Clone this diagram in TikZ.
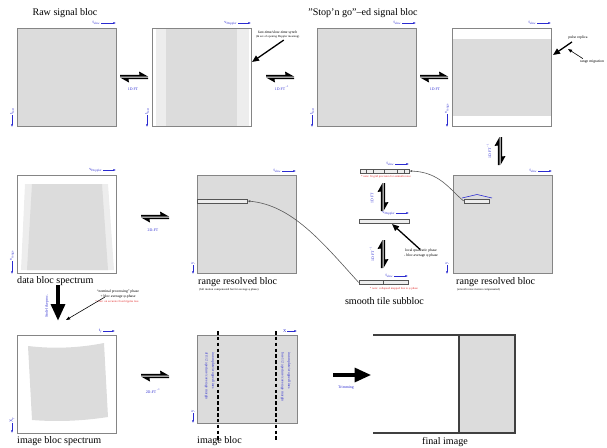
\documentclass[tikz,border=0pt]{standalone}
\usepackage{fontspec}
\setmainfont{Liberation Serif}
\usetikzlibrary{arrows.meta,calc}
\definecolor{boxfill}{HTML}{DCDCDC}
\definecolor{lightfill}{HTML}{EDEDED}
\definecolor{edge}{HTML}{858585}
\definecolor{lblue}{HTML}{2A2AD0}
\definecolor{lred}{HTML}{E02828}
\definecolor{conn}{HTML}{555555}
\tikzset{
  sz/.style 2 args={minimum width=#1*0.03cm, minimum height=#2*0.03cm, inner sep=0pt},
  blk/.style={draw=edge, line width=0.8pt},
  captxt/.style={font=\fontsize{8.6}{10}\selectfont, inner sep=0pt},
  tinytxt/.style={font=\fontsize{3.2}{3.8}\selectfont, inner sep=0pt},
  subcap/.style={font=\fontsize{2.5}{3}\selectfont, inner sep=0pt},
  ftlbl/.style={font=\fontsize{3.3}{4}\selectfont, text=lblue, inner sep=0pt},
  axl/.style={font=\fontsize{3.8}{4}\selectfont, text=lblue, inner sep=0.4pt},
  axarrow/.style={draw=lblue, line width=0.45pt, -{Latex[length=2.2pt,width=1.8pt]}},
  rednote/.style={font=\fontsize{2.5}{3}\selectfont, text=lred, inner sep=0pt},
  bluenote/.style={font=\fontsize{3.1}{4}\selectfont, text=lblue, inner sep=0pt},
  stripbox/.style={draw=conn, fill=lightfill, line width=0.5pt},
  curvconn/.style={draw=conn, line width=0.5pt, -{Latex[length=2.5pt,width=2pt]}},
  ptr/.style={line width=1.1pt, -{Triangle[length=6pt,width=5pt]}},
  thinptr/.style={line width=0.5pt, -{Triangle[length=3.5pt,width=2.6pt]}},
  bigarrow/.style={line width=2.6pt, -{Triangle[length=14pt,width=12pt]}},
  finline/.style={draw=black!75, line width=1pt},
  eqpair/.pic={
    \fill (-14,-0.5) -- (14,-0.5) -- (5,-5.5) -- (5.5,-2.1) -- (-14,-2.1) -- cycle;
    \fill (14,0.5) -- (-14,0.5) -- (-5,5.5) -- (-5.5,2.1) -- (14,2.1) -- cycle;
  },
}
\begin{document}
\begin{tikzpicture}[x=0.03cm,y=-0.03cm]
\useasboundingbox (0,0) rectangle (607,448);

% ---------------- row 1 ----------------
\node[captxt] (t1) at (65,13) {Raw signal bloc};
\node[captxt] (t3) at (363,13) {"Stop’n go"–ed signal bloc};

\node[blk, fill=boxfill, sz={99}{98}] (b1) at (66.5,77) {};

\fill[lightfill] (156,28) rectangle (166,126);
\fill[boxfill] (166,28) rectangle (237,126);
\fill[lightfill] (237,28) rectangle (249,126);
\node[blk, sz={99}{98}] (b2) at (201.5,77) {};

\node[blk, fill=boxfill, sz={99}{98}] (b3) at (366.5,77) {};

\fill[boxfill] (452,39) rectangle (551,116);
\node[blk, sz={99}{98}] (b4) at (501.5,77) {};

% axes row 1
\node[axl, anchor=east] (a1t) at (101,23) {t\textsubscript{slow}};
\coordinate (a1te) at (116,23);
\draw[axarrow] (a1t) -- (a1te);
\node[axl, rotate=90, anchor=west] (a1l) at (12,115) {t\textsubscript{fast}};
\coordinate (a1le) at (12,127);
\draw[axarrow] (a1l) -- (a1le);

\node[axl, anchor=east] (a2t) at (238,23) {ν\textsubscript{Doppler}};
\coordinate (a2te) at (251,23);
\draw[axarrow] (a2t) -- (a2te);
\node[axl, rotate=90, anchor=west] (a2l) at (147,115) {t\textsubscript{fast}};
\coordinate (a2le) at (147,127);
\draw[axarrow] (a2l) -- (a2le);

\node[axl, anchor=east] (a3t) at (402,23) {t\textsubscript{slow}};
\coordinate (a3te) at (416,23);
\draw[axarrow] (a3t) -- (a3te);
\node[axl, rotate=90, anchor=west] (a3l) at (312,115) {t\textsubscript{fast}};
\coordinate (a3le) at (312,127);
\draw[axarrow] (a3l) -- (a3le);

\node[axl, anchor=east] (a4t) at (537,23) {t\textsubscript{slow}};
\coordinate (a4te) at (551,23);
\draw[axarrow] (a4t) -- (a4te);
\node[axl, rotate=90, anchor=west] (a4l) at (447,114) {ν\textsubscript{range}};
\coordinate (a4le) at (447,127);
\draw[axarrow] (a4l) -- (a4le);

% transforms row 1
\pic at (134,77) {eqpair};
\pic at (280,77) {eqpair};
\pic at (434,77) {eqpair};
\node[ftlbl] (f1) at (133,89) {1D FT};
\node[ftlbl] (f2) at (282,88) {1D FT\textsuperscript{\,−1}};
\node[ftlbl] (f3) at (435,89) {1D FT};

% annotations row 1
\node[tinytxt, anchor=west] (n1) at (258,33) {fast-time/slow-time synch};
\node[subcap, anchor=west] (n1b) at (256,37) {(\& are of opening Doppler meaning)};
\coordinate (n1tip) at (252,62);
\draw[ptr] ($(n1b.south)+(6,1.5)$) -- (n1tip);

\node[tinytxt] (n2) at (578,38) {pulse replica};
\node[tinytxt] (n3) at (592,62) {range migration};
\coordinate (n2tip) at (553,55);
\draw[ptr] ($(n2.south)+(-6,2)$) -- (n2tip);
\coordinate (n3tip) at (568,49);
\draw[thinptr] ($(n3.north west)+(3,-1.5)$) -- (n3tip);

% ---------------- row 2 ----------------
\fill[lightfill] (25,184) -- (108,184) -- (114,270) -- (21,270) -- cycle;
\fill[boxfill] (32,184) -- (102,184) -- (108,270) -- (27,270) -- cycle;
\node[blk, sz={99}{98}] (b5) at (66.5,224) {};
\node[axl, anchor=east] (a5t) at (103,170) {ν\textsubscript{Doppler}};
\coordinate (a5te) at (116,170);
\draw[axarrow] (a5t) -- (a5te);
\node[axl, rotate=90, anchor=west] (a5l) at (12,261) {ν\textsubscript{range}};
\coordinate (a5le) at (12,274);
\draw[axarrow] (a5l) -- (a5le);
\node[captxt, anchor=west] (c5) at (17,281) {data bloc spectrum};

\pic at (155,217) {eqpair};
\node[ftlbl] (f4) at (153,230) {2D-FT};

\node[blk, fill=boxfill, sz={99}{98}] (b6) at (246.5,224) {};
\node[stripbox, sz={50}{4}] (r6) at (222,201) {};
\node[axl, anchor=east] (a6t) at (282,171) {t\textsubscript{slow}};
\coordinate (a6te) at (296,171);
\draw[axarrow] (a6t) -- (a6te);
\node[axl, rotate=90, anchor=west] (a6l) at (193,265) {y};
\coordinate (a6le) at (193,274);
\draw[axarrow] (a6l) -- (a6le);
\node[captxt, anchor=west] (c6) at (198,282) {range resolved bloc};
\node[subcap, anchor=west] (c6s) at (199,290) {(full motion compensated but for average φ phase)};

% smooth tile subbloc
\node[stripbox, sz={49}{4}] (s1) at (384.5,171) {};
\foreach \xx in {366,373,384,397,404} \draw[conn, line width=0.4pt] (\xx,169) -- (\xx,173);
\node[axl, anchor=east] (as1) at (395,164) {t\textsubscript{slow}};
\coordinate (as1e) at (409,164);
\draw[axarrow] (as1) -- (as1e);
\node[rednote] (rn1) at (386,177) {* note: fit grid precision for azimuth noise};

\pic[rotate=90] at (383,197) {eqpair};
\node[ftlbl, rotate=90] (f5) at (372,198) {1D FT};

\node[stripbox, sz={50}{4}] (s2) at (384,221) {};
\node[axl, anchor=east] (as2) at (396,213) {ν\textsubscript{Doppler}};
\coordinate (as2e) at (409,213);
\draw[axarrow] (as2) -- (as2e);
\node[tinytxt, align=center] (lq) at (421,253) {local quadratic phase\\- bloc average φ phase};
\coordinate (s2tip) at (392,224);
\draw[ptr] ($(lq.north)+(-1,0.5)$) -- (s2tip);

\pic[rotate=90] at (383,254) {eqpair};
\node[ftlbl, rotate=90] (f6) at (372,254) {1D FT\textsuperscript{\,−1}};

\node[stripbox, sz={49}{4}] (s3) at (383.5,282.5) {};
\draw[conn, line width=0.4pt] (383,280.5) -- (383,284.5);
\node[axl, anchor=east] (as3) at (394,276) {t\textsubscript{slow}};
\coordinate (as3e) at (408,276);
\draw[axarrow] (as3) -- (as3e);
\node[rednote] (rn3) at (394,289) {* note: collapsed mapped line to φ phase};
\node[captxt] (c7a) at (384.5,301) {smooth tile subbloc};

% right range resolved bloc
\node[blk, fill=boxfill, sz={99}{98}] (b7) at (502.5,224) {};
\node[stripbox, sz={25}{4}] (r7) at (476.5,201) {};
\draw[lblue, line width=0.5pt] (462,198) -- (477,194.5) -- (492,198);
\node[axl, anchor=east] (a7t) at (538,171) {t\textsubscript{slow}};
\coordinate (a7te) at (552,171);
\draw[axarrow] (a7t) -- (a7te);
\node[axl, rotate=90, anchor=west] (a7l) at (447,265) {y};
\coordinate (a7le) at (447,274);
\draw[axarrow] (a7l) -- (a7le);
\node[captxt, anchor=west] (c7) at (456,282) {range resolved bloc};
\node[subcap, anchor=west] (c7s) at (457,290) {(smooth noise motion compensated)};

\pic[rotate=90] at (500,151) {eqpair};
\node[ftlbl, rotate=90] (f7) at (489,151) {1D FT\textsuperscript{\,−1}};

% curved connectors
\draw[curvconn] (s3.west) .. controls (322,242) and (292,205) .. (r6.east);
\draw[curvconn] (r7.west) .. controls (450,190) and (440,172) .. (s1.east);

% ---------------- row 3 ----------------
\fill[boxfill] (28,346) .. controls (53,349) and (79,348) .. (104,343) -- (108,417) .. controls (82,421) and (57,422) .. (32,420) -- cycle;
\node[blk, sz={99}{98}] (b8) at (66.5,384) {};
\node[axl, anchor=east] (a8t) at (103,331) {t\textsubscript{y}};
\coordinate (a8te) at (115,331);
\draw[axarrow] (a8t) -- (a8te);
\node[axl, rotate=90, anchor=west] (a8l) at (12,423) {X\textsubscript{y}};
\coordinate (a8le) at (12,433);
\draw[axarrow] (a8l) -- (a8le);
\node[captxt, anchor=west] (c8) at (17,441) {image bloc spectrum};

\draw[bigarrow] ($(b5.south)+(-8.5,12)$) -- ($(b8.north)+(-8.5,-14)$);
\node[ftlbl, rotate=90] (f8) at (47,306) {Stolt-like proc.};
\node[tinytxt, align=center] (np) at (118,294) {“nominal processing” phase\\+ bloc average φ-phase};
\node[rednote] (rn2) at (117,302) {* note: on accurate fixed ripples loss};
\coordinate (nptip) at (66,320);
\draw[thinptr] ($(np.south west)+(8,-1)$) -- (nptip);

\pic at (155,376) {eqpair};
\node[ftlbl] (f9) at (153,391) {2D-FT\textsuperscript{\,−1}};

\node[blk, fill=boxfill, sz={100}{88}] (b9) at (247,379) {};
\draw[black, line width=0.9pt, dash pattern=on 3pt off 2pt] (218,331) -- (218,440);
\draw[black, line width=0.9pt, dash pattern=on 3pt off 2pt] (276,331) -- (276,440);
\node[bluenote, rotate=-90, anchor=west] (it1) at (213,352) {incomplete/cropped lines};
\node[bluenote, rotate=-90, anchor=west] (it2) at (206.5,352) {aft 1/2 aperture/coverage margin};
\node[bluenote, rotate=-90, anchor=west] (it3) at (289,352) {incomplete/cropped lines};
\node[bluenote, rotate=-90, anchor=west] (it4) at (282.5,352) {fore 1/2 aperture/coverage margin};
\node[axl, anchor=east] (a9t) at (287,331) {X};
\coordinate (a9te) at (297,331);
\draw[axarrow] (a9t) -- (a9te);
\node[axl, rotate=90, anchor=west] (a9l) at (193,413) {y};
\coordinate (a9le) at (193,423);
\draw[axarrow] (a9l) -- (a9le);
\node[captxt, anchor=west] (c9) at (197,441) {image bloc};

\coordinate (tr1) at (333,375);
\coordinate (tr2) at (371,375);
\draw[bigarrow] (tr1) -- (tr2);
\node[ftlbl] (f10) at (346,388) {Trimming};

\fill[boxfill] (459,335) rectangle (515,433);
\draw[finline] (373,335) -- (515,335) -- (515,433) -- (373,433);
\draw[finline] (459,335) -- (459,433);
\node[captxt] (c10) at (445,442) {final image};
\end{tikzpicture}
\end{document}
